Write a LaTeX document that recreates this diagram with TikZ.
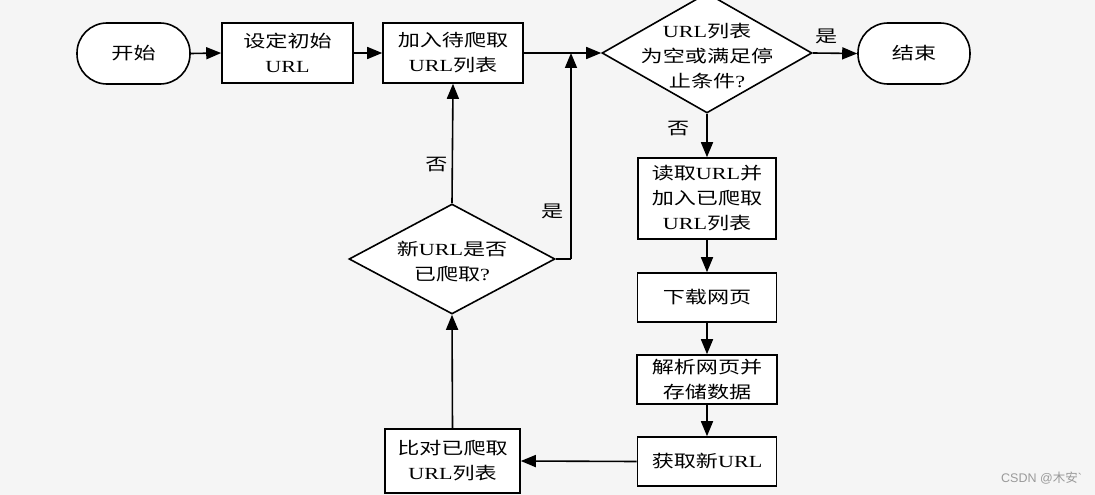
\documentclass[tikz,border=0pt]{standalone}
\usepackage{fontspec}
\setmainfont{Liberation Serif}[FakeStretch=1.3]
\newfontfamily\cjk{Noto Sans CJK SC}[FakeStretch=1.3]
\newfontfamily\wmfont{Liberation Sans}
\newfontfamily\wmcjk{Noto Sans CJK SC}
\usetikzlibrary{arrows.meta,shapes.geometric}
\definecolor{bgc}{HTML}{F5F5F5}
\definecolor{wmc}{HTML}{9A9A9A}
\tikzset{
  every node/.style={font=\fontsize{17pt}{25pt}\selectfont},
  boxnode/.style={draw=black, line width=1.6pt, fill=white, rectangle, inner sep=0pt, align=center},
  termnode/.style={draw=black, line width=1.6pt, fill=white, rectangle, rounded corners=30pt, inner sep=0pt, align=center},
  decnode/.style={draw=black, line width=1.6pt, fill=white, diamond, inner sep=0pt},
  conn/.style={line width=1.6pt, -{Triangle[length=15pt,width=12pt]}},
  plain/.style={line width=1.6pt},
  lbl/.style={inner sep=0pt}
}
\begin{document}
\begin{tikzpicture}[x=1pt,y=-1pt]
\useasboundingbox (0,0) rectangle (1095,495);
\fill[bgc] (0,0) rectangle (1095,495);
\clip (0,0) rectangle (1095,495);

% nodes
\node[termnode, minimum width=113pt, minimum height=61pt] (start) at (133.5,53.5) {\cjk 开始};
\node[boxnode, minimum width=131pt, minimum height=60pt] (init) at (287.5,53) {{\cjk 设定初始}\\URL};
\node[boxnode, minimum width=140pt, minimum height=60pt] (add) at (453,53) {{\cjk 加入待爬取}\\URL{\cjk 列表}};
\node[decnode, minimum width=210pt, minimum height=120pt] (dec1) at (707,53) {};
\node[lbl, align=center] (dec1t) at (707,56) {URL{\cjk 列表}\\{\cjk 为空或满足停}\\{\cjk 止条件}?};
\node[termnode, minimum width=112pt, minimum height=61pt] (end) at (914,53.5) {\cjk 结束};
\node[boxnode, minimum width=138pt, minimum height=81pt] (read) at (707,198.5) {{\cjk 读取}URL{\cjk 并}\\{\cjk 加入已爬取}\\URL{\cjk 列表}};
\node[boxnode, minimum width=139pt, minimum height=49pt] (down) at (707,297.5) {\cjk 下载网页};
\node[boxnode, minimum width=140pt, minimum height=49pt] (parse) at (707,379.5) {{\cjk 解析网页并}\\{\cjk 存储数据}};
\node[boxnode, minimum width=139pt, minimum height=49pt] (get) at (707,461.5) {{\cjk 获取新}URL};
\node[boxnode, minimum width=135pt, minimum height=64pt] (cmp) at (452.5,461) {{\cjk 比对已爬取}\\URL{\cjk 列表}};
\node[decnode, minimum width=206pt, minimum height=110pt] (dec2) at (452,259) {};
\node[lbl, align=center] (dec2t) at (452,262) {{\cjk 新}URL{\cjk 是否}\\{\cjk 已爬取}?};
\coordinate (corner) at (571,259);
\coordinate (merge) at (571,53);

% connectors
\draw[conn] (start.east) -- (init.west);
\draw[conn] (init.east) -- (add.west);
\draw[conn] (add.east) -- (dec1.west);
\draw[conn] (dec1.east) -- node[lbl, pos=0.3, above=8pt] {\cjk 是} (end.west);
\draw[conn] (dec1.south) -- node[lbl, pos=0.33, left=17pt] {\cjk 否} (read.north);
\draw[conn] (read.south) -- (down.north);
\draw[conn] (down.south) -- (parse.north);
\draw[conn] (parse.south) -- (get.north);
\draw[conn] (get.west) -- (cmp.east);
\draw[conn] (cmp.north) -- (dec2.south);
\draw[conn] (dec2.north) -- node[lbl, pos=0.32, left=4pt] {\cjk 否} (add.south);
\draw[plain] (dec2.east) -- (corner);
\draw[conn] (corner) -- node[lbl, pos=0.23, left=7pt] {\cjk 是} (merge);

% watermark
\node[lbl, anchor=west, text=wmc, font=\fontsize{12.5pt}{14pt}\selectfont] (wm) at (1001,478) {\wmfont CSDN @{\wmcjk 木安}`};
\end{tikzpicture}
\end{document}
